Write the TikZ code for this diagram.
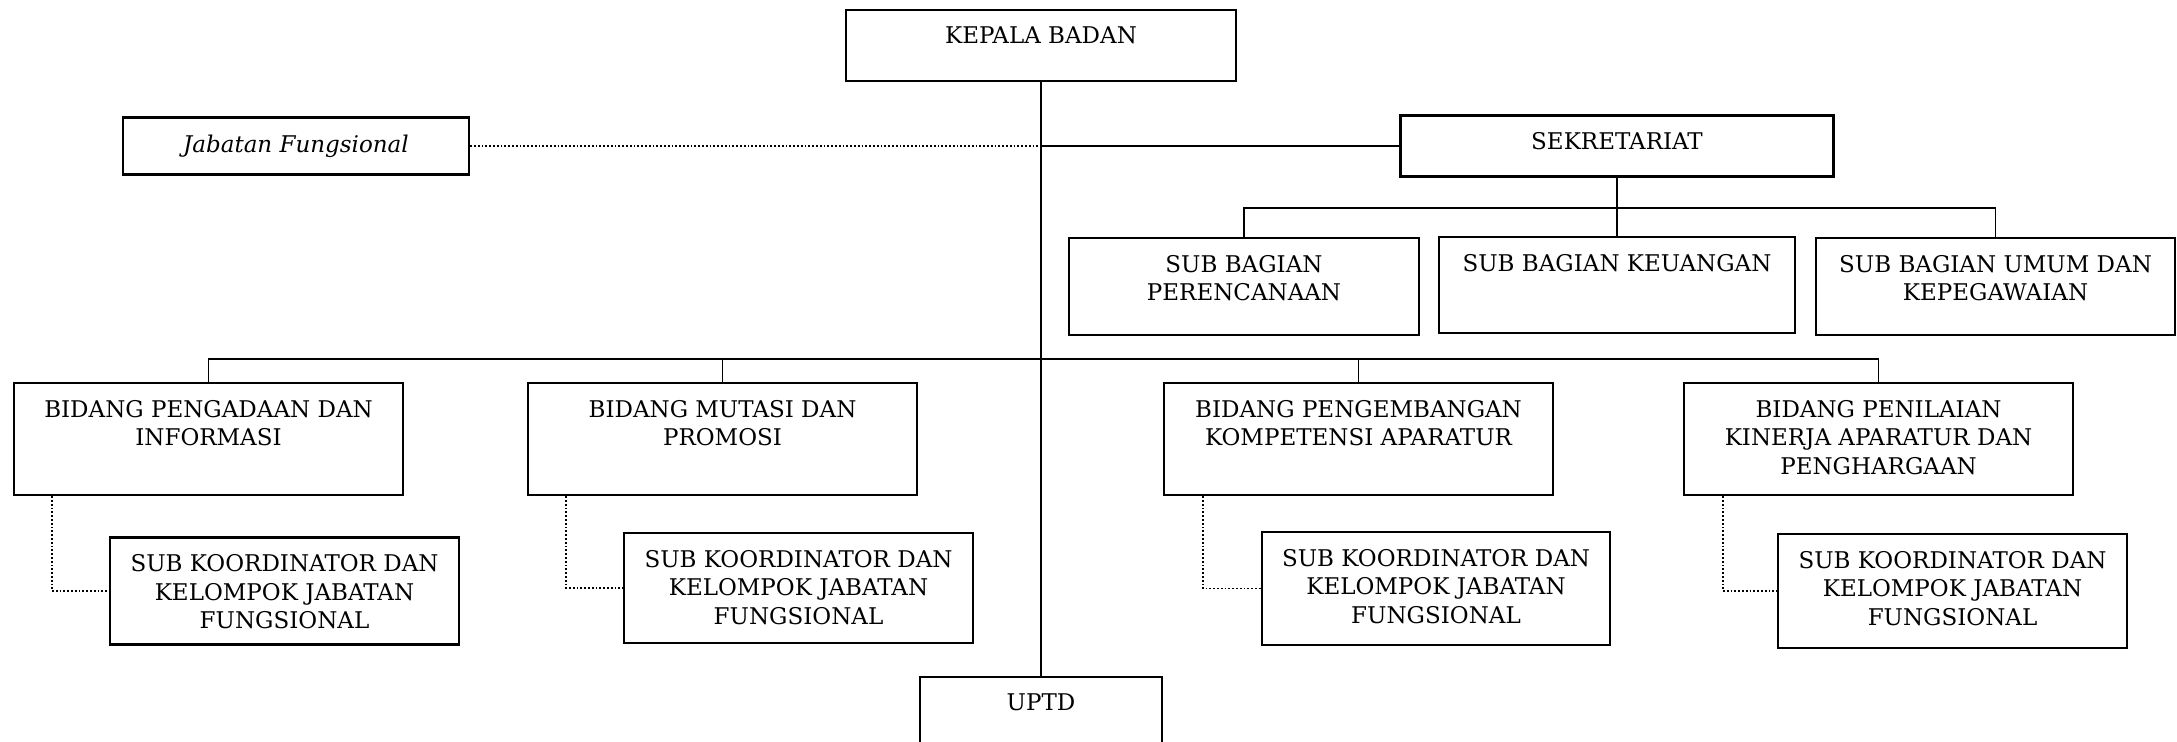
\documentclass[tikz,border=0pt]{standalone}
\usepackage{fontspec}
\setmainfont{DejaVu Serif}
\usepackage{tikz}
\usetikzlibrary{calc}
\newcommand{\px}{0.5pt}
\newcommand{\drawUnit}[6]{% name, center: x,y, size: w,h, text
  \node[unit,minimum width=#4*\px,minimum height=#5*\px] (#1) at (#2,#3) {};
  \node[unittext] (#1-text) at (#1.north) {#6};
}

\begin{document}
\begin{tikzpicture}[x=0.5pt,y=-0.5pt,
  unit/.style={draw,line width=1.2pt,inner sep=0pt},
  unittext/.style={anchor=north,yshift=-9pt,inner sep=0pt,align=center,
    font=\fontsize{11.5}{14.3}\selectfont},
  link/.style={line width=0.9pt},
  staff/.style={line width=0.9pt,densely dotted}]
\clip (0,0) rectangle (2177,742);

% Head, staff and secretariat
\drawUnit{kepala}{1041}{45.5}{390}{71}{KEPALA BADAN}
\drawUnit{jabfung}{296}{146}{346}{57}{\textit{Jabatan Fungsional}}
\drawUnit{sekretariat}{1617}{146}{433}{61}{SEKRETARIAT}

% Sub bagian
\drawUnit{perencanaan}{1244}{286.5}{350}{97}{SUB BAGIAN\\PERENCANAAN}
\drawUnit{keuangan}{1617}{285}{356}{96}{SUB BAGIAN KEUANGAN}
\drawUnit{umum}{1995.5}{286.5}{359}{97}{SUB BAGIAN UMUM DAN\\KEPEGAWAIAN}

% Bidang
\drawUnit{pengadaan}{208.5}{439}{389}{112}{BIDANG PENGADAAN DAN\\INFORMASI}
\drawUnit{mutasi}{722.5}{439}{389}{112}{BIDANG MUTASI DAN\\PROMOSI}
\drawUnit{pengembangan}{1358.5}{439}{389}{112}{BIDANG PENGEMBANGAN\\KOMPETENSI APARATUR}
\drawUnit{penilaian}{1878.5}{439}{389}{112}{BIDANG PENILAIAN\\KINERJA APARATUR DAN\\PENGHARGAAN}

% Sub koordinator
\drawUnit{koorA}{284.5}{591}{349}{107}{SUB KOORDINATOR DAN\\KELOMPOK JABATAN\\FUNGSIONAL}
\drawUnit{koorB}{798.5}{588}{349}{110}{SUB KOORDINATOR DAN\\KELOMPOK JABATAN\\FUNGSIONAL}
\drawUnit{koorC}{1436}{588.5}{348}{113}{SUB KOORDINATOR DAN\\KELOMPOK JABATAN\\FUNGSIONAL}
\drawUnit{koorD}{1952.5}{591}{349}{114}{SUB KOORDINATOR DAN\\KELOMPOK JABATAN\\FUNGSIONAL}

% UPTD
\drawUnit{uptd}{1041}{727}{242}{100}{UPTD}

% Lines
\draw[link] (kepala.south) -- (uptd.north);
\draw[staff] (jabfung.east) -- (jabfung.east -| kepala.south);
\draw[link] (jabfung.east -| kepala.south) -- (sekretariat.west);
\draw[link] (sekretariat.south) -- (keuangan.north);
\draw[link] (perencanaan.north) -- ++(0,-29) -| (umum.north);
\draw[link] (pengadaan.north) -- ++(0,-23) -| (penilaian.north);
\draw[link] (mutasi.north) -- ++(0,-23);
\draw[link] (pengembangan.north) -- ++(0,-23);
\draw[staff] ($(pengadaan.south west)+(39,0)$) |- (koorA.west);
\draw[staff] ($(mutasi.south west)+(39,0)$) |- (koorB.west);
\draw[staff] ($(pengembangan.south west)+(40,0)$) |- (koorC.west);
\draw[staff] ($(penilaian.south west)+(40,0)$) |- (koorD.west);
\end{tikzpicture}
\end{document}
